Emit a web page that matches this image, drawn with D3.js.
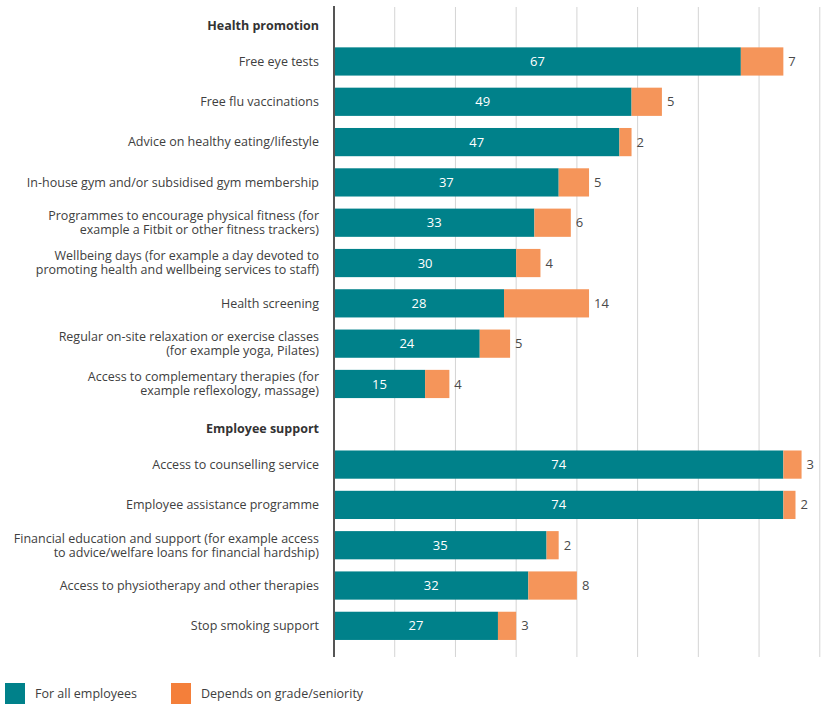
<!DOCTYPE html>
<html lang="en">
<head>
    <meta charset="UTF-8">
    <title>Health promotion and employee support</title>
    <script src="https://d3js.org/d3.v7.min.js"></script>
    <style>
        body {
            margin: 0;
            background: #fff;
            font-family: "Open Sans", Lato, sans-serif;
        }
        svg {
            display: block;
        }
        .label {
            font-size: 12.5px;
            fill: #404040;
        }
        .header {
            font-size: 12.5px;
            font-weight: bold;
            fill: #333;
        }
    </style>
</head>
<body>
    <div id="container"></div>

    <script>
        // rows, top to bottom (headers have no values)
        const groups = ['Health promotion', 'Employee support'];

        const healthItems = [
            ['Free eye tests'],
            ['Free flu vaccinations'],
            ['Advice on healthy eating/lifestyle'],
            ['In-house gym and/or subsidised gym membership'],
            ['Programmes to encourage physical fitness (for', 'example a Fitbit or other fitness trackers)'],
            ['Wellbeing days (for example a day devoted to', 'promoting health and wellbeing services to staff)'],
            ['Health screening'],
            ['Regular on-site relaxation or exercise classes', '(for example yoga, Pilates)'],
            ['Access to complementary therapies (for', 'example reflexology, massage)']
        ];
        const healthAll = [67, 49, 47, 37, 33, 30, 28, 24, 15];
        const healthGrade = [7, 5, 2, 5, 6, 4, 14, 5, 4];

        const supportItems = [
            ['Access to counselling service'],
            ['Employee assistance programme'],
            ['Financial education and support (for example access', 'to advice/welfare loans for financial hardship)'],
            ['Access to physiotherapy and other therapies'],
            ['Stop smoking support']
        ];
        const supportAll = [74, 74, 35, 32, 27];
        const supportGrade = [3, 2, 2, 8, 3];

        const seriesNames = ['For all employees', 'Depends on grade/seniority'];
        const colors = ['#00818a', '#f5955a'];
        const legendColors = ['#00818a', '#f47f3a'];

        // build row list
        const rows = [];
        rows.push({ header: true, lines: [groups[0]] });
        healthItems.forEach((d, i) => rows.push({ header: false, lines: d, all: healthAll[i], grade: healthGrade[i] }));
        rows.push({ header: true, lines: [groups[1]] });
        supportItems.forEach((d, i) => rows.push({ header: false, lines: d, all: supportAll[i], grade: supportGrade[i] }));
        rows.forEach((d, i) => d.id = i);

        const width = 822;
        const height = 704;
        const axisX = 334;

        const svg = d3.select('#container').append('svg')
            .attr('width', width)
            .attr('height', height);

        const x = d3.scaleLinear()
            .domain([0, 80.2])
            .range([axisX, 821]);

        const y = d3.scaleBand()
            .domain(rows.map(d => d.id))
            .range([1, 646])
            .paddingInner(0.3)
            .paddingOuter(0.15);

        // gridlines
        svg.selectAll('.grid')
            .data(d3.range(10, 81, 10))
            .enter()
            .append('line')
            .attr('x1', d => x(d))
            .attr('x2', d => x(d))
            .attr('y1', 7)
            .attr('y2', 657)
            .attr('stroke', '#d4d4d4')
            .attr('stroke-width', 1);

        const bars = rows.filter(d => !d.header);

        // teal segment
        svg.selectAll('.barAll')
            .data(bars)
            .enter()
            .append('rect')
            .attr('x', x(0))
            .attr('y', d => y(d.id))
            .attr('width', d => x(d.all) - x(0))
            .attr('height', y.bandwidth())
            .attr('fill', colors[0]);

        // orange segment
        svg.selectAll('.barGrade')
            .data(bars)
            .enter()
            .append('rect')
            .attr('x', d => x(d.all))
            .attr('y', d => y(d.id))
            .attr('width', d => x(d.all + d.grade) - x(d.all))
            .attr('height', y.bandwidth())
            .attr('fill', colors[1]);

        // values inside teal
        svg.selectAll('.valAll')
            .data(bars)
            .enter()
            .append('text')
            .attr('x', d => (x(0) + x(d.all)) / 2)
            .attr('y', d => y(d.id) + y.bandwidth() / 2)
            .attr('dy', '0.35em')
            .attr('text-anchor', 'middle')
            .attr('font-size', '13px')
            .attr('fill', '#fff')
            .text(d => d.all);

        // values after orange
        svg.selectAll('.valGrade')
            .data(bars)
            .enter()
            .append('text')
            .attr('x', d => x(d.all + d.grade) + 5)
            .attr('y', d => y(d.id) + y.bandwidth() / 2)
            .attr('dy', '0.35em')
            .attr('font-size', '13px')
            .attr('fill', '#4a4a4a')
            .text(d => d.grade);

        // y axis line
        svg.append('line')
            .attr('x1', axisX)
            .attr('x2', axisX)
            .attr('y1', 6)
            .attr('y2', 657)
            .attr('stroke', '#555')
            .attr('stroke-width', 2);

        // category labels, one text per line
        const lineGap = 14;
        const labelLines = [];
        rows.forEach(d => {
            const n = d.lines.length;
            d.lines.forEach((line, i) => {
                labelLines.push({
                    header: d.header,
                    text: line,
                    cy: y(d.id) + y.bandwidth() / 2 + (i - (n - 1) / 2) * lineGap + (d.header ? 4 : 0)
                });
            });
        });

        svg.selectAll('.cat')
            .data(labelLines)
            .enter()
            .append('text')
            .attr('class', d => d.header ? 'header' : 'label')
            .attr('text-anchor', 'end')
            .attr('x', 319)
            .attr('y', d => d.cy)
            .attr('dy', '0.35em')
            .text(d => d.text);

        // legend
        const legendX = [5, 171];
        seriesNames.forEach((name, i) => {
            svg.append('rect')
                .attr('x', legendX[i])
                .attr('y', 683)
                .attr('width', 20)
                .attr('height', 21)
                .attr('fill', legendColors[i]);
            svg.append('text')
                .attr('class', 'label')
                .attr('x', legendX[i] + 30)
                .attr('y', 694)
                .attr('dy', '0.35em')
                .text(name);
        });
    </script>
</body>
</html>
